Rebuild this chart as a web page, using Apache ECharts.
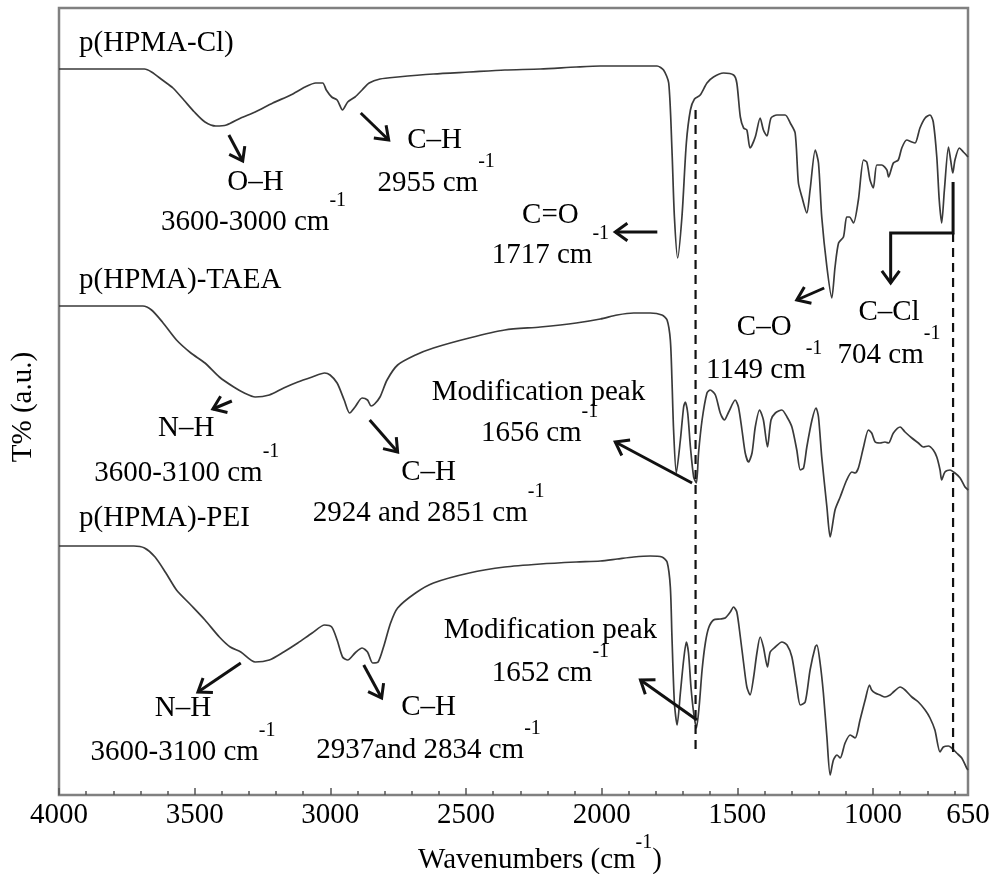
<!DOCTYPE html>
<html>
<head>
<meta charset="utf-8">
<script src="https://cdn.jsdelivr.net/npm/echarts@6/dist/echarts.min.js"></script>
<style>
  html, body { margin: 0; padding: 0; background: #ffffff; }
  #chart { width: 997px; height: 874px; }
</style>
</head>
<body>
<div id="chart"></div>
<script>
// FTIR spectra, stacked with arbitrary vertical offsets (T%, a.u.)
const hpmaClWavenumber = [4000, 3935, 3803, 3685, 3659, 3619, 3580, 3540, 3501, 3462, 3422, 3383, 3330, 3277, 3212, 3146, 3093, 3054, 3028, 3015, 2995, 2975, 2955, 2936, 2909, 2883, 2857, 2817, 2752, 2620, 2488, 2357, 2226, 2094, 2005, 1796, 1772, 1753, 1741, 1732, 1720, 1704, 1688, 1673, 1658, 1637, 1612, 1588, 1551, 1514, 1502, 1489, 1477, 1465, 1453, 1434, 1416, 1404, 1391, 1376, 1354, 1324, 1305, 1287, 1275, 1262, 1244, 1232, 1213, 1201, 1189, 1170, 1152, 1140, 1127, 1109, 1097, 1087, 1072, 1054, 1035, 1023, 1011, 999, 986, 968, 949, 943, 925, 907, 894, 876, 857, 845, 827, 808, 790, 778, 765, 756, 747, 737, 722, 714, 706, 698, 682, 667, 650];
const hpmaClT = [703, 703, 703, 703, 700, 692, 684, 672, 660, 650, 646, 647, 654, 660, 669, 677, 685, 689, 689, 682, 675, 672, 662, 670, 675, 682, 689, 693, 695, 698, 700, 702, 703, 705, 706, 706, 702, 689, 622, 555, 514, 556, 629, 662, 673, 677, 689, 695, 699, 697, 689, 655, 644, 642, 624, 635, 654, 642, 636, 654, 657, 657, 649, 639, 589, 575, 559, 582, 622, 609, 555, 505, 474, 505, 529, 535, 555, 555, 549, 572, 612, 610, 592, 584, 607, 607, 602, 595, 609, 612, 624, 632, 630, 629, 644, 654, 657, 650, 615, 572, 549, 582, 625, 612, 599, 612, 624, 620, 615];

const taeaWavenumber = [4000, 3691, 3659, 3619, 3567, 3514, 3462, 3409, 3356, 3317, 3277, 3225, 3172, 3120, 3067, 3021, 3001, 2975, 2949, 2929, 2909, 2883, 2863, 2850, 2837, 2817, 2791, 2752, 2686, 2620, 2488, 2357, 2226, 2094, 2005, 1943, 1882, 1821, 1778, 1759, 1747, 1741, 1735, 1725, 1710, 1698, 1692, 1683, 1673, 1661, 1651, 1643, 1630, 1612, 1600, 1581, 1563, 1548, 1532, 1508, 1496, 1483, 1471, 1459, 1446, 1434, 1418, 1404, 1389, 1376, 1360, 1336, 1317, 1299, 1281, 1268, 1256, 1244, 1225, 1210, 1201, 1189, 1170, 1158, 1140, 1121, 1097, 1078, 1066, 1054, 1035, 1017, 1005, 992, 974, 956, 943, 925, 900, 882, 857, 833, 815, 796, 778, 765, 753, 747, 735, 716, 698, 679, 661, 649];
const taeaT = [466, 466, 462, 450, 432, 419, 409, 395, 385, 379, 375, 377, 384, 390, 395, 399, 397, 389, 372, 359, 365, 374, 372, 366, 368, 375, 392, 407, 417, 424, 434, 442, 445, 449, 453, 457, 459, 459, 457, 452, 432, 392, 342, 299, 332, 365, 370, 359, 325, 295, 289, 319, 352, 379, 382, 377, 359, 352, 360, 372, 365, 342, 319, 310, 319, 345, 362, 352, 325, 352, 359, 362, 355, 345, 322, 302, 304, 325, 352, 364, 355, 315, 265, 235, 262, 275, 292, 300, 299, 304, 325, 342, 339, 330, 329, 330, 329, 339, 345, 340, 334, 329, 325, 326, 322, 315, 302, 292, 300, 302, 299, 294, 285, 282];

const peiWavenumber = [4000, 3724, 3685, 3646, 3606, 3567, 3514, 3462, 3409, 3369, 3330, 3277, 3225, 3172, 3120, 3067, 3021, 2995, 2975, 2955, 2936, 2909, 2883, 2863, 2844, 2824, 2804, 2778, 2752, 2686, 2620, 2488, 2357, 2226, 2094, 2005, 1943, 1882, 1821, 1778, 1759, 1747, 1741, 1732, 1722, 1710, 1698, 1688, 1680, 1671, 1661, 1651, 1641, 1630, 1618, 1606, 1588, 1563, 1545, 1526, 1514, 1502, 1489, 1477, 1465, 1453, 1440, 1428, 1416, 1404, 1389, 1379, 1360, 1336, 1317, 1299, 1281, 1268, 1250, 1232, 1213, 1207, 1195, 1183, 1170, 1158, 1146, 1133, 1121, 1103, 1084, 1066, 1048, 1029, 1013, 1005, 992, 974, 956, 937, 925, 900, 882, 857, 833, 808, 790, 772, 753, 741, 722, 710, 692, 673, 655, 650];
const peiT = [226, 226, 224, 215, 199, 182, 167, 152, 135, 125, 120, 110, 112, 120, 129, 139, 147, 145, 132, 115, 112, 119, 124, 120, 109, 110, 125, 149, 164, 179, 189, 199, 205, 208, 210, 211, 213, 215, 216, 215, 210, 185, 135, 69, 47, 79, 112, 130, 119, 85, 59, 44, 65, 102, 129, 144, 152, 153, 154, 160, 165, 160, 135, 109, 85, 77, 95, 119, 135, 125, 105, 120, 125, 130, 127, 115, 85, 67, 70, 102, 125, 127, 109, 79, 35, -3, 12, 17, 14, 29, 37, 34, 52, 72, 87, 82, 79, 77, 75, 77, 80, 85, 82, 75, 70, 62, 54, 42, 20, 25, 26, 24, 19, 14, 4, 2];

// Wavenumber axis ticks
const xTickLabels = [4000, 3500, 3000, 2500, 2000, 1500, 1000, 650];
const majorTicks = [4000, 3500, 3000, 2500, 2000, 1500, 1000];
const minorTicks = [3900, 3800, 3700, 3600, 3400, 3300, 3200, 3100, 2900, 2800, 2700, 2600, 2400, 2300, 2200, 2100, 1900, 1800, 1700, 1600, 1400, 1300, 1200, 1100, 900, 800, 700];

// Reference lines through the modification peak and the C-Cl band
const guideLines = [
  [[1654, 662], [1654, 20]],
  [[705, 539], [705, 20]]
];

// Band assignment arrows, arrowhead at the last point (wavenumber, T)
const arrowPaths = [
  [[3374, 637], [3323, 611]],
  [[2888, 659], [2785, 632]],
  [[1795, 540], [1950, 540]],
  [[1180, 484], [1281, 472]],
  [[705, 590], [705, 539], [935, 539], [935, 489]],
  [[3363, 371], [3433, 363]],
  [[2855, 352], [2752, 320]],
  [[1667, 289], [1950, 330]],
  [[3330, 109], [3488, 80]],
  [[2877, 107], [2811, 74]],
  [[1649, 52], [1857, 92]]
];

// Text notes: [wavenumber, T, text, superscript, align]
const notes = [
  [3926, 729, 'p(HPMA-Cl)', '', 'left'],
  [3926, 492, 'p(HPMA)-TAEA', '', 'left'],
  [3926, 254, 'p(HPMA)-PEI', '', 'left'],
  [3276, 590, 'O\u2013H', '', 'center'],
  [3283, 550, '3600-3000 cm', '-1', 'center'],
  [2616, 632, 'C\u2013H', '', 'center'],
  [2610, 589, '2955 cm', '-1', 'center'],
  [2189, 557, 'C=O', '', 'center'],
  [2189, 517, '1717 cm', '-1', 'center'],
  [1401, 445, 'C\u2013O', '', 'center'],
  [1401, 402, '1149 cm', '-1', 'center'],
  [941, 460, 'C\u2013Cl', '', 'center'],
  [941, 417, '704 cm', '-1', 'center'],
  [3531, 344, 'N\u2013H', '', 'center'],
  [3529, 299, '3600-3100 cm', '-1', 'center'],
  [2638, 300, 'C\u2013H', '', 'center'],
  [2638, 259, '2924 and 2851 cm', '-1', 'center'],
  [2233, 380, 'Modification peak', '', 'center'],
  [2229, 339, '1656 cm', '-1', 'center'],
  [3543, 64, 'N\u2013H', '', 'center'],
  [3543, 20, '3600-3100 cm', '-1', 'center'],
  [2638, 65, 'C\u2013H', '', 'center'],
  [2638, 22, '2937and 2834 cm', '-1', 'center'],
  [2189, 142, 'Modification peak', '', 'center'],
  [2189, 99, '1652 cm', '-1', 'center']
];

const FONT = "'Liberation Serif', 'Times New Roman', serif";
const TEXT_SIZE = 29;

function zip(xs, ys) {
  return xs.map((x, i) => [x, ys[i]]);
}

function arrowHead(tip, from, len, ang) {
  const dx = tip[0] - from[0], dy = tip[1] - from[1];
  const d = Math.hypot(dx, dy) || 1;
  const bx = -dx / d, by = -dy / d;
  const c = Math.cos(ang), s = Math.sin(ang);
  return [
    [tip[0] + len * (bx * c - by * s), tip[1] + len * (bx * s + by * c)],
    tip,
    [tip[0] + len * (bx * c + by * s), tip[1] + len * (-bx * s + by * c)]
  ];
}

function supRich(mainLineHeight) {
  return {
    m: { fontSize: TEXT_SIZE, fontFamily: FONT, lineHeight: mainLineHeight, fill: '#000' },
    s: { fontSize: 20, fontFamily: FONT, lineHeight: 20, verticalAlign: 'top', fill: '#000' }
  };
}

function renderNotes(params, api) {
  const children = [];
  guideLines.forEach(seg => {
    children.push({
      type: 'polyline',
      shape: { points: seg.map(p => api.coord(p)) },
      style: { stroke: '#111', lineWidth: 2.2, lineDash: [9, 6], fill: null }
    });
  });
  arrowPaths.forEach(path => {
    const pts = path.map(p => api.coord(p));
    children.push({
      type: 'polyline',
      shape: { points: pts },
      style: { stroke: '#111', lineWidth: 3, fill: null }
    });
    children.push({
      type: 'polyline',
      shape: { points: arrowHead(pts[pts.length - 1], pts[pts.length - 2], 15, Math.PI / 5) },
      style: { stroke: '#111', lineWidth: 3, fill: null, lineJoin: 'miter' }
    });
  });
  notes.forEach(n => {
    const pos = api.coord([n[0], n[1]]);
    const text = n[3] ? '{m|' + n[2] + '}{s|' + n[3] + '}' : n[2];
    children.push({
      type: 'text',
      x: pos[0],
      y: pos[1],
      style: {
        text: text,
        fill: '#000',
        font: TEXT_SIZE + 'px ' + FONT,
        align: n[4],
        verticalAlign: 'middle',
        rich: supRich(62)
      }
    });
  });
  return { type: 'group', children: children };
}

const curveStyle = { color: '#3a3a3a', width: 1.7 };

const chart = echarts.init(document.getElementById('chart'), null, { renderer: 'canvas' });
chart.setOption({
  animation: false,
  backgroundColor: '#ffffff',
  grid: {
    left: 59, right: 29, top: 8, bottom: 79,
    show: true, borderColor: '#808080', borderWidth: 2.5, backgroundColor: 'transparent'
  },
  xAxis: [
    {
      type: 'value', min: 650, max: 4000, inverse: true, position: 'bottom',
      axisLine: { show: false, onZero: false },
      splitLine: { show: false },
      axisTick: { show: true, inside: true, length: 7, customValues: majorTicks, lineStyle: { color: '#555', width: 1.5 } },
      axisLabel: {
        customValues: xTickLabels, margin: 6,
        formatter: v => String(v),
        fontFamily: FONT, fontSize: TEXT_SIZE, color: '#000'
      }
    },
    {
      type: 'value', min: 650, max: 4000, inverse: true, position: 'bottom',
      axisLine: { show: false, onZero: false },
      splitLine: { show: false },
      axisTick: { show: true, inside: true, length: 4, customValues: minorTicks, lineStyle: { color: '#555', width: 1.5 } },
      axisLabel: { show: false }
    }
  ],
  yAxis: {
    type: 'value', min: -23, max: 764, show: false
  },
  graphic: [
    {
      type: 'text', x: 23, y: 407, rotation: Math.PI / 2,
      style: { text: 'T% (a.u.)', font: TEXT_SIZE + 'px ' + FONT, fill: '#000', align: 'center', verticalAlign: 'middle' }
    },
    {
      type: 'text', x: 540, y: 860,
      style: {
        text: '{m|Wavenumbers (cm}{s|-1}{m|)}',
        font: TEXT_SIZE + 'px ' + FONT, fill: '#000', align: 'center', verticalAlign: 'middle',
        rich: supRich(54)
      }
    }
  ],
  series: [
    { name: 'p(HPMA-Cl)', type: 'line', data: zip(hpmaClWavenumber, hpmaClT), showSymbol: false, lineStyle: curveStyle, smooth: 0.25 },
    { name: 'p(HPMA)-TAEA', type: 'line', data: zip(taeaWavenumber, taeaT), showSymbol: false, lineStyle: curveStyle, smooth: 0.25 },
    { name: 'p(HPMA)-PEI', type: 'line', data: zip(peiWavenumber, peiT), showSymbol: false, lineStyle: curveStyle, smooth: 0.25 },
    {
      type: 'custom', name: 'notes', silent: true, z: 5,
      data: [[650, 0]],
      renderItem: renderNotes
    }
  ]
});
</script>
</body>
</html>
